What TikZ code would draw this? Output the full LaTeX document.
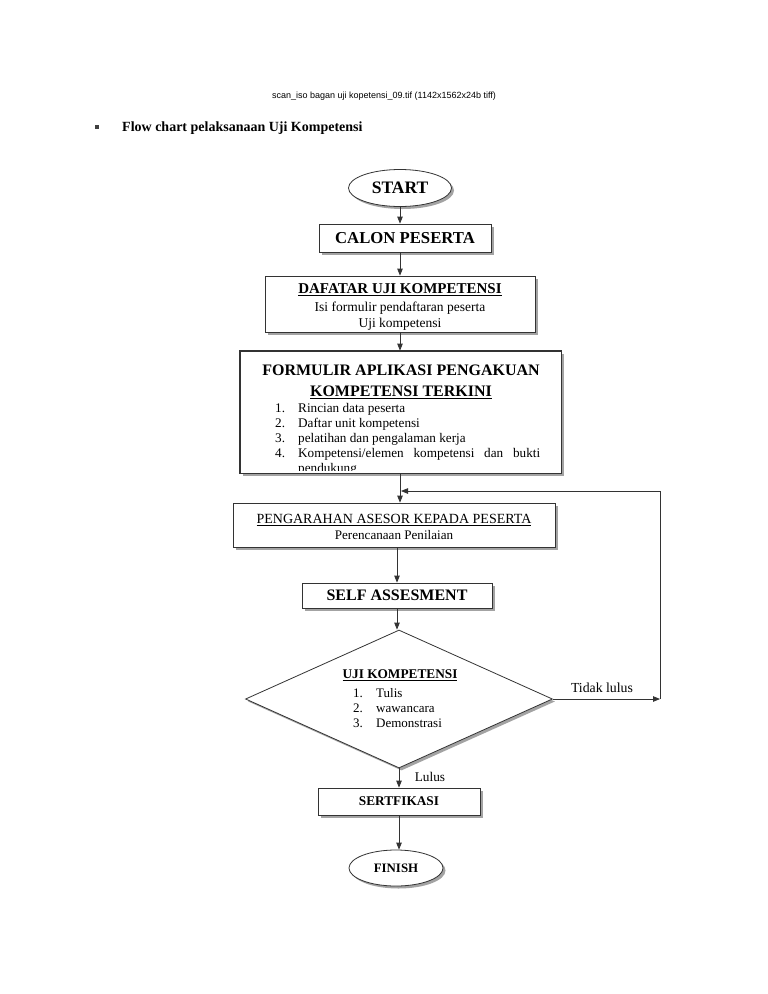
\documentclass[tikz,border=0pt]{standalone}
\usepackage{fontspec}
\setmainfont{Liberation Serif}
\setsansfont{Liberation Sans}
\usetikzlibrary{shapes.geometric,shadows,arrows.meta}

\tikzset{
  box/.style={draw=black!80,fill=white,line width=0.8pt,rectangle,inner sep=0pt,
    drop shadow={shadow xshift=2.5pt,shadow yshift=-2.5pt,fill=black!45,opacity=0.8}},
  terminal/.style={box,ellipse},
  arr/.style={-{Triangle[length=7pt,width=5.5pt]},draw=black!80,line width=0.8pt},
  line/.style={draw=black!80,line width=0.8pt},
  teks/.style={font=\fontsize{13.5}{16}\selectfont,align=center,inner sep=0pt},
}

\begin{document}
\begin{tikzpicture}[x=1pt,y=-1pt]
	%page
	\fill[white] (0,0) rectangle (768,994);
	\useasboundingbox (0,0) rectangle (768,994);

	%header and title
	\node[font=\fontsize{9}{11}\selectfont\sffamily] (kepala) at (384,96) {scan\_iso bagan uji kopetensi\_09.tif (1142x1562x24b tiff)};
	\node[fill=black!75,minimum size=4.5pt,inner sep=0pt] (poin) at (97,127) {};
	\node[anchor=west,inner sep=0pt,font=\fontsize{14}{16}\selectfont\bfseries] (judul) at (122,128) {Flow chart pelaksanaan Uji Kompetensi};

	%boxes
	\node[terminal,minimum width=103,minimum height=37,font=\fontsize{17.5}{20}\selectfont\bfseries] (start) at (400,188) {START};
	\node[box,minimum width=172,minimum height=28,font=\fontsize{16.7}{19}\selectfont\bfseries] (calon) at (405,238) {CALON PESERTA};
	\node[box,minimum width=270,minimum height=56] (dafatar) at (400,304) {};
	\node[teks] (dafatarisi) at (400,307)
	  {{\fontsize{15}{17}\selectfont\bfseries\underline{DAFATAR UJI KOMPETENSI}}\\[1.5pt]Isi formulir pendaftaran peserta\\Uji kompetensi};
	\node[box,minimum width=321,minimum height=122] (formulir) at (400.5,412) {};
	\node[teks,font=\fontsize{16}{20.5}\selectfont\bfseries] (formulirjudul) at (401,382)
	  {FORMULIR APLIKASI PENGAKUAN\\\underline{KOMPETENSI TERKINI}};
	\begin{scope}
	  \clip (240,351) rectangle (561,470);
	  \node[anchor=north west,inner sep=0pt,font=\fontsize{13.2}{15}\selectfont] (formulirisi) at (275,401.5)
	    {\begin{tabular}{@{}p{11pt}p{242pt}@{}}
	     1. & Rincian data peserta\\
	     2. & Daftar unit kompetensi\\
	     3. & pelatihan dan pengalaman kerja\\
	     4. & Kompetensi/elemen kompetensi dan bukti\linebreak pendukung
	     \end{tabular}};
	\end{scope}
	\draw[line] (formulir.south west) rectangle (formulir.north east); %border over clipped text

	\node[box,minimum width=322,minimum height=44] (pengarahan) at (394,525) {};
	\node[teks] (pengarahanisi) at (394,527)
	  {{\fontsize{14}{16}\selectfont\underline{PENGARAHAN ASESOR KEPADA PESERTA}}\\{\fontsize{13.1}{16}\selectfont Perencanaan Penilaian}};
	\node[box,minimum width=190,minimum height=25,font=\fontsize{16}{18}\selectfont\bfseries] (self) at (397,595.5) {SELF ASSESMENT};

	%decision
	\node[box,diamond,minimum width=307,minimum height=138] (uji) at (399,699) {};
	\node[teks,font=\fontsize{13.3}{15}\selectfont\bfseries] (ujijudul) at (400,675.5) {\underline{UJI KOMPETENSI}};
	\node[anchor=north west,inner sep=0pt,font=\fontsize{13}{15}\selectfont] (ujiisi) at (353,686.5)
	  {\begin{tabular}{@{}p{11pt}l@{}}
	   1. & Tulis\\
	   2. & wawancara\\
	   3. & Demonstrasi
	   \end{tabular}};

	\node[box,minimum width=162,minimum height=27,font=\fontsize{13.3}{15}\selectfont\bfseries] (sertifikasi) at (399,801.5) {SERTFIKASI};
	\node[terminal,minimum width=94,minimum height=36,font=\fontsize{12.9}{15}\selectfont\bfseries] (finish) at (396,868) {FINISH};

	%arrows
	\draw[arr] (start.south) -- (start |- calon.north);
	\draw[arr] (start |- calon.south) -- (dafatar.north);
	\draw[arr] (dafatar.south) -- (dafatar |- formulir.north);
	\draw[arr] (dafatar |- formulir.south) -- (dafatar |- pengarahan.north);
	\draw[arr] (self |- pengarahan.south) -- (self.north);
	\draw[arr] (self.south) -- (self |- uji.north);
	\draw[arr] (uji.south) -- (uji |- sertifikasi.north);
	\draw[arr] (sertifikasi.south) -- (sertifikasi |- finish.north);

	%loop back
	\coordinate (putarkanan) at (660,699);
	\coordinate (putaratas) at (660,491);
	\coordinate (putarmasuk) at (401,491);
	\draw[arr] (uji.east) -- (putarkanan);
	\draw[line] (putarkanan) -- (putaratas);
	\draw[arr] (putaratas) -- (putarmasuk);

	%labels
	\node[teks,font=\fontsize{13.8}{16}\selectfont] (tidaklulus) at (602,688) {Tidak lulus};
	\node[teks,font=\fontsize{13.3}{16}\selectfont] (lulus) at (430,777) {Lulus};
\end{tikzpicture}
\end{document}
